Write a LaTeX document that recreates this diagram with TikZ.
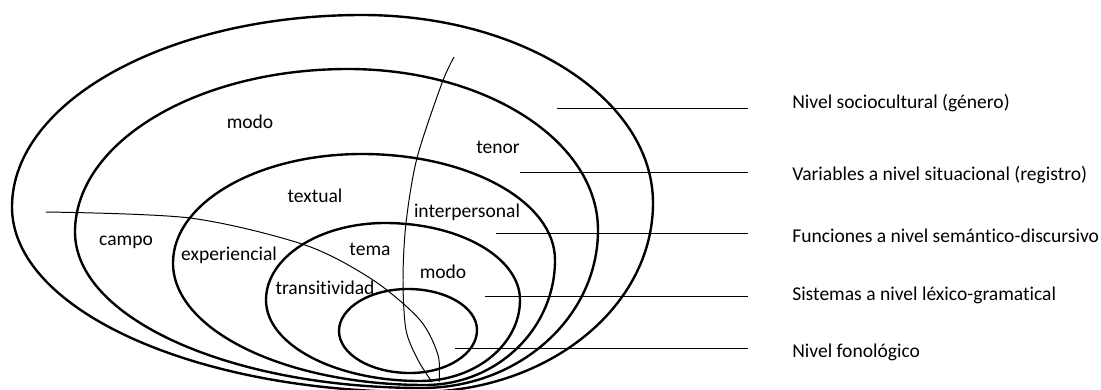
\documentclass[tikz,border=0pt]{standalone}
\usepackage{fontspec}
\setmainfont[Ligatures=NoCommon]{Carlito}
\usetikzlibrary{calc}
\newcommand{\kk}{0.5523}
% anillo ovalado a partir de sus cuatro extremos (izq., arriba, der., abajo)
\newcommand{\huevo}[1]{%
    \draw [anillo] (#1L)
        .. controls ($(#1L)!\kk!(#1L|-#1T)$) and ($(#1T)!\kk!(#1L|-#1T)$) .. (#1T)
        .. controls ($(#1T)!\kk!(#1R|-#1T)$) and ($(#1R)!\kk!(#1R|-#1T)$) .. (#1R)
        .. controls ($(#1R)!\kk!(#1R|-#1B)$) and ($(#1B)!\kk!(#1R|-#1B)$) .. (#1B)
        .. controls ($(#1B)!\kk!(#1L|-#1B)$) and ($(#1L)!\kk!(#1L|-#1B)$) .. cycle;}
\begin{document}
\begin{tikzpicture}[x=0.025cm,y=-0.025cm,
    anillo/.style={line width=1.7pt},
    hilo/.style={line width=0.7pt},
    rotulo/.style={font=\fontsize{13.9}{15}\selectfont, inner sep=0pt},
    nivel/.style={rotulo, anchor=west}]
    \useasboundingbox (0,0) rectangle (1101,389);

    \coordinate (aL) at (12,207);  \coordinate (aT) at (362,15);
    \coordinate (aR) at (653,203); \coordinate (aB) at (418,392);
    \coordinate (bL) at (75,232);  \coordinate (bT) at (348,69);
    \coordinate (bR) at (598,230); \coordinate (bB) at (422,388);
    \coordinate (cL) at (173,263); \coordinate (cT) at (362,154);
    \coordinate (cR) at (555,260); \coordinate (cB) at (425,385);
    \coordinate (dL) at (266,300); \coordinate (dT) at (385,223);
    \coordinate (dR) at (520,300); \coordinate (dB) at (420,381);
    \coordinate (eL) at (339,331); \coordinate (eT) at (408,289);
    \coordinate (eR) at (477,330); \coordinate (eB) at (410,373);

    \huevo{a}
    \huevo{b}
    \huevo{c}
    \huevo{d}
    \huevo{e}

    \draw [hilo] plot [smooth] coordinates {(46,212) (190,218) (305,245) (373,280) (420,320) (438,355) (439,382)};
    \draw [hilo] plot [smooth] coordinates {(454,57) (442,83) (417,158) (406,223) (403,280) (406,330) (418,360) (432,382)};

    \node [rotulo] (modoA) at (250,122) {modo};
    \node [rotulo] (tenor) at (498,147) {tenor};
    \node [rotulo] (textual) at (315,196) {textual};
    \node [rotulo] (interp) at (467,212) {interpersonal};
    \node [rotulo] (campo) at (126,242) {campo};
    \node [rotulo] (exper) at (229,255) {experiencial};
    \node [rotulo] (tema) at (370,249) {tema};
    \node [rotulo] (modoB) at (443,272) {modo};
    \node [rotulo] (trans) at (325,288) {transitividad};

    \node [nivel] (genero) at (792,103) {Nivel sociocultural (género)};
    \node [nivel] (registro) at (792,175) {Variables a nivel situacional (registro)};
    \node [nivel] (semantico) at (792,236) {Funciones a nivel semántico-discursivo};
    \node [nivel] (lexico) at (792,295) {Sistemas a nivel léxico-gramatical};
    \node [nivel] (fono) at (792,352) {Nivel fonológico};

    \coordinate (fin) at (748,0);
    \coordinate (s1) at (557,108);
    \coordinate (s2) at (520,172);
    \coordinate (s3) at (496,233);
    \coordinate (s4) at (485,296);
    \coordinate (s5) at (455,348);

    \foreach \s in {s1,s2,s3,s4,s5}
        \draw [hilo] (\s) -- (\s -| fin);
\end{tikzpicture}
\end{document}
